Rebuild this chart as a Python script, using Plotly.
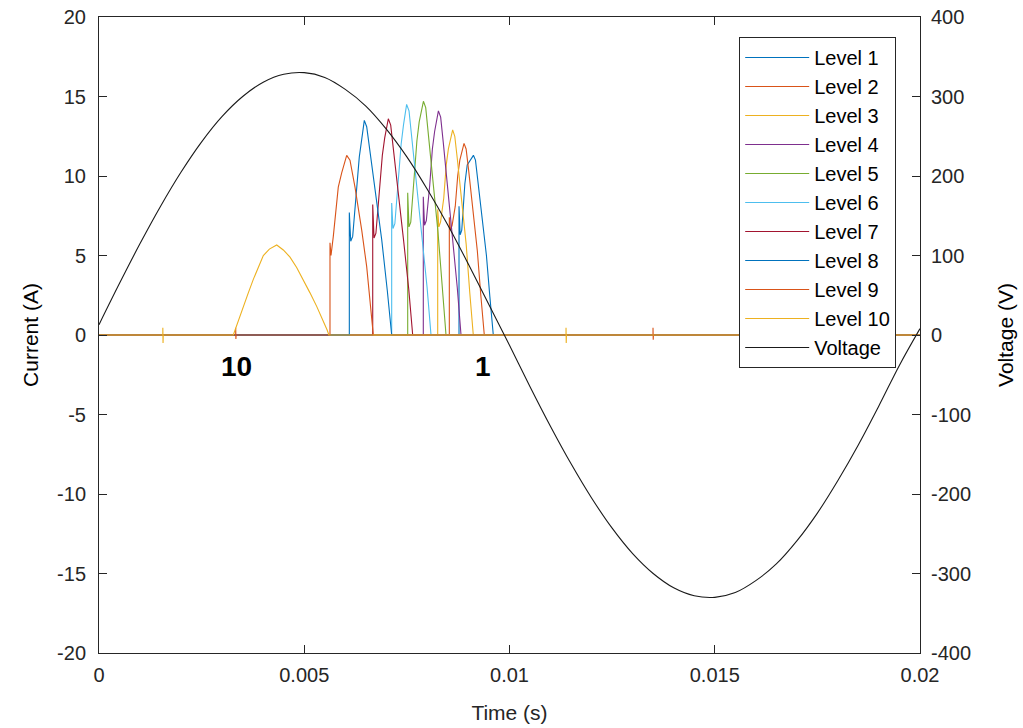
import plotly.graph_objects as go

# ---------------- data (times in ms, currents in A, voltage in V) ----------------
v_t_ms = [0, 0.5, 1, 1.5, 2, 2.5, 3, 3.5, 4, 4.5, 5, 5.5, 6, 6.5, 7, 7.5, 8, 8.5, 9, 9.5,
          10, 10.5, 11, 11.5, 12, 12.5, 13, 13.5, 14, 14.5, 15, 15.5, 16, 16.5, 17, 17.5,
          18, 18.5, 19, 19.5, 20]
v_volt = [13, 65, 115, 162, 205, 243, 275, 300, 318, 328, 330, 324, 309, 288, 259, 224,
          183, 138, 89, 38, -13, -65, -115, -162, -205, -243, -275, -300, -318, -328, -330,
          -324, -309, -288, -259, -224, -183, -138, -89, -38, 8]

l1_t = [0, 8.770, 8.770, 8.798, 8.837, 8.912, 8.970, 9.021, 9.121, 9.171, 9.229, 9.321, 9.438, 9.522, 9.605, 20]
l1_i = [0, 0, 8.1, 6.3, 6.6, 9.5, 10.7, 10.9, 11.3, 11.0, 9.7, 7.6, 5.0, 2.4, 0, 0]

l2_t = [0, 8.534, 8.534, 8.562, 8.602, 8.679, 8.738, 8.790, 8.892, 8.943, 9.003, 9.096, 9.216, 9.301, 9.386, 20]
l2_i = [0, 0, 7.4, 6.6, 6.9, 8.1, 10.0, 11.0, 12.05, 11.7, 10.4, 8.1, 5.3, 2.5, 0, 0]

l3_t = [0, 8.251, 8.251, 8.280, 8.320, 8.398, 8.459, 8.511, 8.615, 8.667, 8.728, 8.823, 8.945, 9.031, 9.118, 20]
l3_i = [0, 0, 7.9, 6.8, 7.1, 8.6, 10.7, 11.7, 12.9, 12.5, 11.1, 8.6, 5.7, 2.7, 0, 0]

l4_t = [0, 7.900, 7.900, 7.930, 7.974, 8.056, 8.121, 8.176, 8.268, 8.323, 8.387, 8.488, 8.617, 8.727, 8.819, 20]
l4_i = [0, 0, 8.7, 6.9, 7.2, 9.4, 11.7, 12.8, 14.1, 13.7, 12.1, 9.4, 6.2, 3.0, 0, 0]

l5_t = [0, 7.520, 7.520, 7.551, 7.595, 7.679, 7.744, 7.800, 7.903, 7.959, 8.024, 8.126, 8.257, 8.360, 8.453, 20]
l5_i = [0, 0, 8.95, 6.8, 7.1, 9.8, 12.2, 13.4, 14.7, 14.3, 12.6, 9.8, 6.5, 3.1, 0, 0]

l6_t = [0, 7.130, 7.130, 7.162, 7.207, 7.293, 7.360, 7.417, 7.494, 7.552, 7.619, 7.724, 7.858, 7.992, 8.088, 20]
l6_i = [0, 0, 8.3, 6.7, 7.0, 9.7, 12.0, 13.2, 14.5, 14.1, 12.5, 9.7, 6.4, 3.0, 0, 0]

l7_t = [0, 6.668, 6.668, 6.700, 6.746, 6.834, 6.902, 6.960, 7.048, 7.106, 7.174, 7.282, 7.418, 7.545, 7.642, 20]
l7_i = [0, 0, 8.2, 6.1, 6.4, 9.1, 11.3, 12.4, 13.6, 13.2, 11.7, 9.1, 6.0, 2.9, 0, 0]

l8_t = [0, 6.098, 6.098, 6.132, 6.180, 6.278, 6.341, 6.400, 6.463, 6.521, 6.602, 6.724, 6.887, 7.023, 7.130, 20]
l8_i = [0, 0, 7.7, 5.9, 6.2, 9.1, 11.2, 12.3, 13.5, 13.1, 11.6, 9.1, 6.0, 2.8, 0, 0]

l9_t = [0, 3.330, 3.330, 3.335, 3.340, 5.627, 5.627, 5.652, 5.708, 5.829, 5.912, 6.034, 6.114, 6.236,
        6.400, 6.521, 6.610, 6.682, 13.496, 13.496, 13.501, 13.506, 20]
l9_i = [0, 0, 0.45, -0.25, 0, 0, 5.8, 5.0, 6.2, 9.3, 10.2, 11.3, 11.0, 9.3,
        6.6, 4.3, 1.9, 0, 0, 0.45, -0.3, 0, 0]

l10_t = [0, 1.555, 1.555, 1.560, 1.565, 3.272, 3.390, 3.515, 3.637, 3.759, 3.880, 4.003, 4.150, 4.329,
         4.490, 4.653, 4.815, 4.977, 5.140, 5.303, 5.445, 5.560, 5.600, 11.377, 11.377, 11.382, 11.387, 20]
l10_i = [0, 0, 0.45, -0.5, 0, 0, 0.9, 1.8, 2.65, 3.5, 4.3, 5.0, 5.4, 5.66,
         5.35, 4.9, 4.25, 3.5, 2.65, 1.8, 1.0, 0.3, 0, 0, 0.45, -0.5, 0, 0]

level_names = ["Level 1", "Level 2", "Level 3", "Level 4", "Level 5",
               "Level 6", "Level 7", "Level 8", "Level 9", "Level 10"]
level_t = [l1_t, l2_t, l3_t, l4_t, l5_t, l6_t, l7_t, l8_t, l9_t, l10_t]
level_i = [l1_i, l2_i, l3_i, l4_i, l5_i, l6_i, l7_i, l8_i, l9_i, l10_i]
level_colors = ["#0072BD", "#D95319", "#EDB120", "#7E2F8E", "#77AC30",
                "#4DBEEE", "#A2142F", "#0072BD", "#D95319", "#EDB120"]

x_ticks = [0, 0.005, 0.01, 0.015, 0.02]
x_ticktext = ["0", "0.005", "0.01", "0.015", "0.02"]
y_ticks = [-20, -15, -10, -5, 0, 5, 10, 15, 20]
y_ticktext = ["-20", "-15", "-10", "-5", "0", "5", "10", "15", "20"]
y2_ticks = [-400, -300, -200, -100, 0, 100, 200, 300, 400]
y2_ticktext = ["-400", "-300", "-200", "-100", "0", "100", "200", "300", "400"]

# ---------------- figure ----------------
FONT = "Liberation Sans, Arial, Helvetica, sans-serif"
AX = "#262626"

fig = go.Figure()
for k, name in enumerate(level_names):
    fig.add_trace(go.Scatter(
        x=[t / 1000 for t in level_t[k]], y=level_i[k], mode="lines", name=name,
        line=dict(color=level_colors[k], width=1.1), legendgroup=name, yaxis="y"))

fig.add_trace(go.Scatter(
    x=[t / 1000 for t in v_t_ms], y=v_volt, mode="lines", name="Voltage",
    line=dict(color="#1a1a1a", width=1.1, shape="spline", smoothing=1.0),
    legendgroup="Voltage", yaxis="y2"))

fig.add_annotation(x=0.00336, y=-1.95, xref="x", yref="y", text="<b>10</b>", showarrow=False,
                   font=dict(family=FONT, size=28, color="black"))
fig.add_annotation(x=0.009355, y=-1.95, xref="x", yref="y", text="<b>1</b>", showarrow=False,
                   font=dict(family=FONT, size=28, color="black"))

fig.update_layout(
    width=1023, height=728,
    margin=dict(l=99, r=103, t=17, b=75, autoexpand=False),
    paper_bgcolor="white", plot_bgcolor="white",
    font=dict(family=FONT, size=20, color=AX),
    showlegend=True,
    legend=dict(x=0.971, y=0.9686, xanchor="right", yanchor="top",
                bgcolor="white", bordercolor=AX, borderwidth=1,
                font=dict(family=FONT, size=20, color="black"),
                tracegroupgap=0, traceorder="grouped", itemwidth=64),
    xaxis=dict(range=[0, 0.02], tickvals=x_ticks, ticktext=x_ticktext, automargin=False,
               showgrid=False, zeroline=False, showline=True, linecolor=AX, linewidth=1,
               ticks="inside", ticklen=8, tickcolor=AX, mirror="ticks", ticklabelstandoff=4,
               title=dict(text="Time (s)", font=dict(size=21, color=AX), standoff=20)),
    yaxis=dict(range=[-20, 20], tickvals=y_ticks, ticktext=y_ticktext, automargin=False,
               showgrid=False, zeroline=False, showline=True, linecolor=AX, linewidth=1,
               ticks="inside", ticklen=8, tickcolor=AX, ticklabelstandoff=8,
               title=dict(text="Current (A)", font=dict(size=21, color="black"), standoff=12)),
    yaxis2=dict(range=[-400, 400], tickvals=y2_ticks, ticktext=y2_ticktext, automargin=False,
                overlaying="y", side="right",
                showgrid=False, zeroline=False, showline=True, linecolor=AX, linewidth=1,
                ticks="inside", ticklen=8, tickcolor=AX, ticklabelstandoff=6,
                title=dict(text="Voltage (V)", font=dict(size=21, color="black"), standoff=28)),
)

fig.write_html("out.html")
